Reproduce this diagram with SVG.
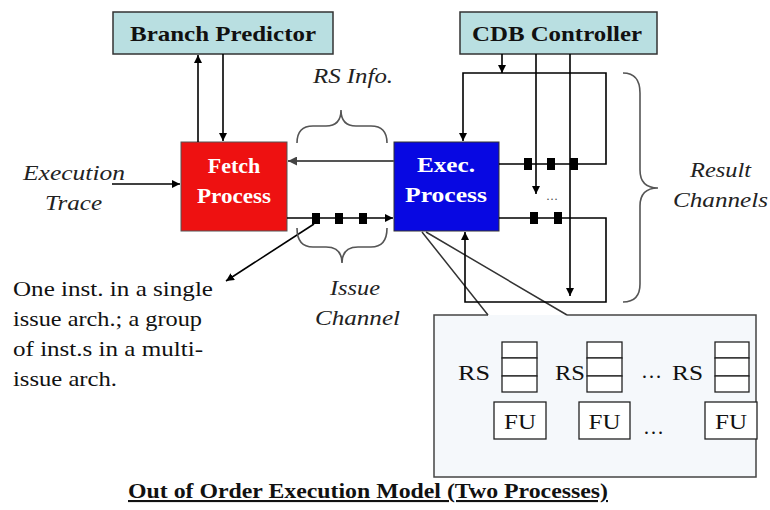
<svg xmlns="http://www.w3.org/2000/svg" width="770" height="510" viewBox="0 0 770 510">
  <defs>
    <marker id="arrow" viewBox="0 0 10 10" refX="10" refY="5" markerWidth="8" markerHeight="8" markerUnits="userSpaceOnUse" orient="auto">
      <path d="M0,0 L10,5 L0,10 Z" fill="#000"/>
    </marker>
    <marker id="arrowGray" viewBox="0 0 10 10" refX="10" refY="5" markerWidth="9" markerHeight="9" markerUnits="userSpaceOnUse" orient="auto">
      <path d="M0,0 L10,5 L0,10 Z" fill="#444"/>
    </marker>
    <style>
      .serif { font-family: "Liberation Serif", "DejaVu Serif", serif; }
      .ital { font-family: "Liberation Serif", "DejaVu Serif", serif; font-style: italic; font-size: 21px; fill: #222; }
      .note { font-family: "Liberation Serif", "DejaVu Serif", serif; font-size: 21px; fill: #111; }
      .ctl { fill: #b9dfe1; stroke: #333; stroke-width: 1.5; }
      .ctlText { font-family: "Liberation Serif", "DejaVu Serif", serif; font-weight: bold; font-size: 21px; fill: #111; }
      .procText { font-family: "Liberation Serif", "DejaVu Serif", serif; font-weight: bold; font-size: 22px; fill: #fff; }
      .wire { fill: none; stroke: #000; stroke-width: 1.6; }
      .brace { fill: none; stroke: #555; stroke-width: 1.6; }
      .token { fill: #000; }
      .cell { fill: #fff; stroke: #222; stroke-width: 1.3; }
    </style>
  </defs>

  <rect width="770" height="510" fill="#fff"/>

  <!-- controllers -->
  <g id="branch-predictor">
    <rect class="ctl" x="113" y="12" width="220" height="42"/>
    <text class="ctlText" x="223" y="41" text-anchor="middle" textLength="186" lengthAdjust="spacingAndGlyphs">Branch Predictor</text>
  </g>
  <g id="cdb-controller">
    <rect class="ctl" x="460" y="12" width="197" height="42"/>
    <text class="ctlText" x="557" y="41" text-anchor="middle" textLength="170" lengthAdjust="spacingAndGlyphs">CDB Controller</text>
  </g>

  <!-- processes -->
  <g id="fetch-process">
    <rect x="181" y="142" width="106" height="89" fill="#ee1111" stroke="#555" stroke-width="1"/>
    <text class="procText" x="234" y="173" text-anchor="middle">Fetch</text>
    <text class="procText" x="234" y="203" text-anchor="middle" textLength="74" lengthAdjust="spacingAndGlyphs">Process</text>
  </g>
  <g id="exec-process">
    <rect x="394" y="142" width="105" height="89" fill="#0808e2" stroke="#333" stroke-width="1"/>
    <text class="procText" x="446" y="172" text-anchor="middle" textLength="58" lengthAdjust="spacingAndGlyphs">Exec.</text>
    <text class="procText" x="446" y="202" text-anchor="middle" textLength="82" lengthAdjust="spacingAndGlyphs">Process</text>
  </g>

  <!-- reservation stations and functional units -->
  <g id="rs-fu-detail">
    <path d="M488,315 L434,315 L434,477 L756,477 L756,315 L567,315" fill="#f5f8fb" stroke="#444" stroke-width="1.5"/>
    <path d="M422,232 L488,315 M567,315 L426,232" fill="none" stroke="#333" stroke-width="1.5"/>
    <g id="rs-1">
      <text class="note" x="458" y="380" textLength="32" lengthAdjust="spacingAndGlyphs">RS</text>
      <rect class="cell" x="502" y="342" width="35" height="16"/>
      <rect class="cell" x="502" y="358" width="35" height="18"/>
      <rect class="cell" x="502" y="376" width="35" height="16"/>
    </g>
    <g id="rs-2">
      <text class="note" x="555" y="380" textLength="30" lengthAdjust="spacingAndGlyphs">RS</text>
      <rect class="cell" x="587" y="342" width="35" height="16"/>
      <rect class="cell" x="587" y="358" width="35" height="18"/>
      <rect class="cell" x="587" y="376" width="35" height="16"/>
    </g>
    <text class="note" x="641" y="378" font-size="16">…</text>
    <g id="rs-n">
      <text class="note" x="672" y="380" textLength="31" lengthAdjust="spacingAndGlyphs">RS</text>
      <rect class="cell" x="715" y="342" width="34" height="16"/>
      <rect class="cell" x="715" y="358" width="34" height="18"/>
      <rect class="cell" x="715" y="376" width="34" height="16"/>
    </g>
    <g id="fu-1">
      <rect class="cell" x="494" y="402" width="52" height="37"/>
      <text class="note" x="520" y="429" text-anchor="middle" textLength="32" lengthAdjust="spacingAndGlyphs">FU</text>
    </g>
    <g id="fu-2">
      <rect class="cell" x="579" y="402" width="51" height="37"/>
      <text class="note" x="604.5" y="429" text-anchor="middle" textLength="32" lengthAdjust="spacingAndGlyphs">FU</text>
    </g>
    <text class="note" x="643" y="434" font-size="16">…</text>
    <g id="fu-n">
      <rect class="cell" x="705" y="402" width="52" height="37"/>
      <text class="note" x="731" y="429" text-anchor="middle" textLength="32" lengthAdjust="spacingAndGlyphs">FU</text>
    </g>
  </g>

  <!-- connectors -->
  <g id="connectors">
    <!-- fetch <-> branch predictor -->
    <line class="wire" x1="198" y1="142" x2="198" y2="55" marker-end="url(#arrow)"/>
    <line class="wire" x1="223" y1="54" x2="223" y2="141" marker-end="url(#arrow)"/>
    <!-- execution trace into fetch -->
    <line class="wire" x1="112" y1="184" x2="180" y2="184" marker-end="url(#arrow)"/>
    <!-- RS info back to fetch -->
    <line x1="394" y1="161" x2="288" y2="161" stroke="#555" stroke-width="2" marker-end="url(#arrowGray)"/>
    <!-- issue channel -->
    <line class="wire" x1="287" y1="218" x2="393" y2="218" marker-end="url(#arrow)"/>
    <rect class="token" x="312" y="213" width="8" height="11"/>
    <rect class="token" x="335" y="213" width="8" height="11"/>
    <rect class="token" x="359" y="213" width="8" height="11"/>
    <line class="wire" x1="314" y1="224" x2="226" y2="281" marker-end="url(#arrow)"/>

    <!-- CDB controller into the top result loop -->
    <line class="wire" x1="502" y1="54" x2="502" y2="73" marker-end="url(#arrow)"/>
    <!-- top result channel loop -->
    <path class="wire" d="M499,164 L606,164 L606,73 L463,73 L463,141" marker-end="url(#arrow)"/>
    <rect class="token" x="524" y="158" width="8" height="12"/>
    <rect class="token" x="547" y="158" width="8" height="12"/>
    <rect class="token" x="570" y="158" width="8" height="12"/>
    <!-- CDB control lines -->
    <line class="wire" x1="536" y1="54" x2="536" y2="194" marker-end="url(#arrow)"/>
    <line class="wire" x1="570" y1="54" x2="570" y2="296" marker-end="url(#arrow)"/>
    <text class="serif" x="546" y="200" font-size="12" fill="#444">…</text>
    <!-- bottom result channel loop -->
    <path class="wire" d="M499,218 L606,218 L606,302 L465,302 L465,232" marker-end="url(#arrow)"/>
    <rect class="token" x="530" y="212" width="8" height="12"/>
    <rect class="token" x="554" y="212" width="8" height="12"/>
  </g>

  <!-- braces -->
  <path class="brace" d="M297,143 Q297,126 313,126 L326,126 Q341,126 341,110 Q341,126 356,126 L371,126 Q387,126 387,143"/>
  <path class="brace" d="M297,228 Q297,247 313,247 L326,247 Q342,247 342,263 Q342,247 358,247 L371,247 Q387,247 387,228"/>
  <path class="brace" d="M623,73 Q640,73 640,93 L640,170 Q640,188 658,188 Q640,188 640,206 L640,284 Q640,302 623,302"/>

  <!-- labels -->
  <text class="ital" x="313" y="83" textLength="80" lengthAdjust="spacingAndGlyphs">RS Info.</text>
  <text class="ital" x="23" y="180" textLength="102" lengthAdjust="spacingAndGlyphs">Execution</text>
  <text class="ital" x="45" y="210" textLength="57" lengthAdjust="spacingAndGlyphs">Trace</text>
  <text class="ital" x="330" y="295" textLength="50" lengthAdjust="spacingAndGlyphs">Issue</text>
  <text class="ital" x="315" y="325" textLength="85" lengthAdjust="spacingAndGlyphs">Channel</text>
  <text class="ital" x="690" y="177" textLength="61" lengthAdjust="spacingAndGlyphs">Result</text>
  <text class="ital" x="673" y="207" textLength="95" lengthAdjust="spacingAndGlyphs">Channels</text>

  <text class="note" x="13" y="296" textLength="200" lengthAdjust="spacingAndGlyphs">One inst. in a single</text>
  <text class="note" x="13" y="326" textLength="189" lengthAdjust="spacingAndGlyphs">issue arch.; a group</text>
  <text class="note" x="13" y="356" textLength="190" lengthAdjust="spacingAndGlyphs">of inst.s in a multi-</text>
  <text class="note" x="13" y="386" textLength="104" lengthAdjust="spacingAndGlyphs">issue arch.</text>

  <text class="serif" x="368" y="498" text-anchor="middle" font-size="21" font-weight="bold" fill="#111" text-decoration="underline" textLength="480" lengthAdjust="spacingAndGlyphs">Out of Order Execution Model (Two Processes)</text>
</svg>
